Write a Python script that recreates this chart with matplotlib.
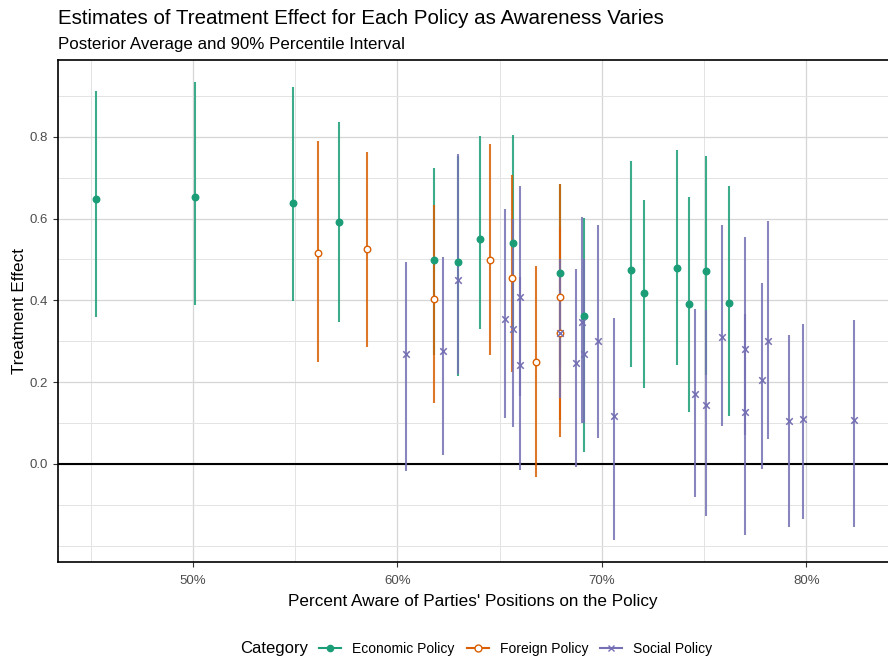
import matplotlib.pyplot as plt
from matplotlib.lines import Line2D
import numpy as np

plt.rcParams["font.family"] = ["Liberation Sans", "DejaVu Sans"]

# Economic policy: awareness (%), posterior mean, 5% and 95% bounds
econ_x = [45.26, 50.08, 54.90, 57.14, 61.80, 62.96, 64.02, 65.66, 67.96, 69.13,
          71.42, 72.07, 73.70, 74.27, 75.09, 76.20]
econ_est = [0.648, 0.654, 0.639, 0.591, 0.498, 0.495, 0.550, 0.541, 0.467, 0.362,
            0.475, 0.418, 0.480, 0.390, 0.473, 0.393]
econ_lo = [0.359, 0.389, 0.398, 0.348, 0.267, 0.214, 0.330, 0.320, 0.238, 0.030,
           0.237, 0.185, 0.241, 0.126, 0.218, 0.116]
econ_hi = [0.911, 0.934, 0.922, 0.837, 0.723, 0.753, 0.801, 0.804, 0.685, 0.601,
           0.741, 0.646, 0.767, 0.652, 0.753, 0.680]

# Foreign policy
foreign_x = [56.10, 58.51, 61.80, 64.52, 65.63, 66.79, 67.96, 67.96]
foreign_est = [0.517, 0.526, 0.404, 0.498, 0.454, 0.249, 0.409, 0.319]
foreign_lo = [0.250, 0.285, 0.149, 0.267, 0.226, -0.032, 0.067, 0.108]
foreign_hi = [0.789, 0.764, 0.634, 0.783, 0.707, 0.484, 0.684, 0.580]

# Social policy
social_x = [60.42, 62.22, 62.96, 65.27, 65.66, 66.02, 66.02, 67.96, 68.76, 69.03,
            69.13, 69.82, 70.62, 74.55, 75.09, 75.88, 77.02, 77.02, 77.86, 78.12,
            79.18, 79.83, 82.32]
social_est = [0.268, 0.277, 0.450, 0.354, 0.330, 0.409, 0.242, 0.319, 0.248, 0.347,
              0.268, 0.301, 0.117, 0.171, 0.144, 0.311, 0.281, 0.126, 0.204, 0.300,
              0.106, 0.109, 0.108]
social_lo = [-0.017, 0.022, 0.220, 0.112, 0.091, 0.165, -0.015, 0.160, -0.007, 0.100,
             0.100, 0.063, -0.186, -0.082, -0.127, 0.093, 0.070, -0.175, -0.012, 0.060,
             -0.155, -0.135, -0.155]
social_hi = [0.493, 0.506, 0.757, 0.623, 0.600, 0.680, 0.458, 0.500, 0.477, 0.603,
             0.500, 0.585, 0.358, 0.379, 0.377, 0.584, 0.555, 0.366, 0.442, 0.595,
             0.316, 0.341, 0.352]

colors = {"Economic Policy": "#1B9E77", "Foreign Policy": "#D95F02", "Social Policy": "#7570B3"}

fig = plt.figure(figsize=(8.88, 6.6), dpi=100)
ax = fig.add_axes([58 / 888, 1 - 562 / 660, 1 - 58 / 888, (562 - 60) / 660])

ax.axhline(0, color="black", lw=1.5, zorder=2)

series = [
    ("Economic Policy", econ_x, econ_est, econ_lo, econ_hi, "o", "#1B9E77"),
    ("Foreign Policy", foreign_x, foreign_est, foreign_lo, foreign_hi, "o", "white"),
    ("Social Policy", social_x, social_est, social_lo, social_hi, "x", None),
]
for name, x, est, lo, hi, mk, fc in series:
    c = colors[name]
    ax.vlines(x, lo, hi, color=c, lw=1.5, alpha=0.85, zorder=3)
    if mk == "x":
        ax.scatter(x, est, marker="x", s=22, color=c, linewidths=1.1, zorder=4)
    else:
        ax.scatter(x, est, marker="o", s=22, facecolor=fc, edgecolor=c, linewidths=1.0, zorder=4)

ax.set_xlim(43.40, 84.0)
ax.set_ylim(-0.240, 0.988)
ax.set_xticks([50, 60, 70, 80])
ax.set_xticklabels(["50%", "60%", "70%", "80%"])
ax.set_xticks([45, 55, 65, 75], minor=True)
ax.set_yticks([0.0, 0.2, 0.4, 0.6, 0.8])
ax.set_yticklabels(["0.0", "0.2", "0.4", "0.6", "0.8"])
ax.set_yticks([-0.2, -0.1, 0.1, 0.3, 0.5, 0.7, 0.9], minor=True)
ax.grid(which="major", color="#d6d6d6", lw=0.9, zorder=0)
ax.grid(which="minor", color="#e3e3e3", lw=0.7, zorder=0)
ax.set_axisbelow(True)
ax.tick_params(which="minor", length=0)
ax.tick_params(which="major", length=3.5, width=0.8, color="#333333",
               labelsize=9.5, labelcolor="#4d4d4d")
ax.tick_params(axis="x", pad=6)
for s in ["top", "bottom", "left"]:
    ax.spines[s].set_linewidth(1.2)
    ax.spines[s].set_color("black")
ax.spines["right"].set_visible(False)

ax.set_xlabel("Percent Aware of Parties' Positions on the Policy", fontsize=12.3, labelpad=5)
ax.set_ylabel("Treatment Effect", fontsize=12.3, labelpad=2)

fig.text(58 / 888, 1 - 18 / 660, "Estimates of Treatment Effect for Each Policy as Awareness Varies",
         fontsize=14.8, ha="left", va="center")
fig.text(58 / 888, 1 - 44 / 660, "Posterior Average and 90% Percentile Interval",
         fontsize=12.2, ha="left", va="center")

handles = [
    Line2D([], [], color=colors["Economic Policy"], lw=1.5, marker="o", markersize=4.5,
           markerfacecolor=colors["Economic Policy"]),
    Line2D([], [], color=colors["Foreign Policy"], lw=1.5, marker="o", markersize=5,
           markerfacecolor="white"),
    Line2D([], [], color=colors["Social Policy"], lw=1.5, marker="x", markersize=5),
]
fig.text(240 / 888, 1 - 649 / 660, "Category", fontsize=12, ha="left", va="center")
fig.legend(handles, ["Economic Policy", "Foreign Policy", "Social Policy"],
           loc="center left", bbox_to_anchor=(319 / 888, 1 - 649 / 660), ncol=3,
           frameon=False, fontsize=10, handlelength=1.6, handletextpad=0.8,
           columnspacing=0.85, borderaxespad=0, borderpad=0)

fig.savefig("out.png", dpi=100)
